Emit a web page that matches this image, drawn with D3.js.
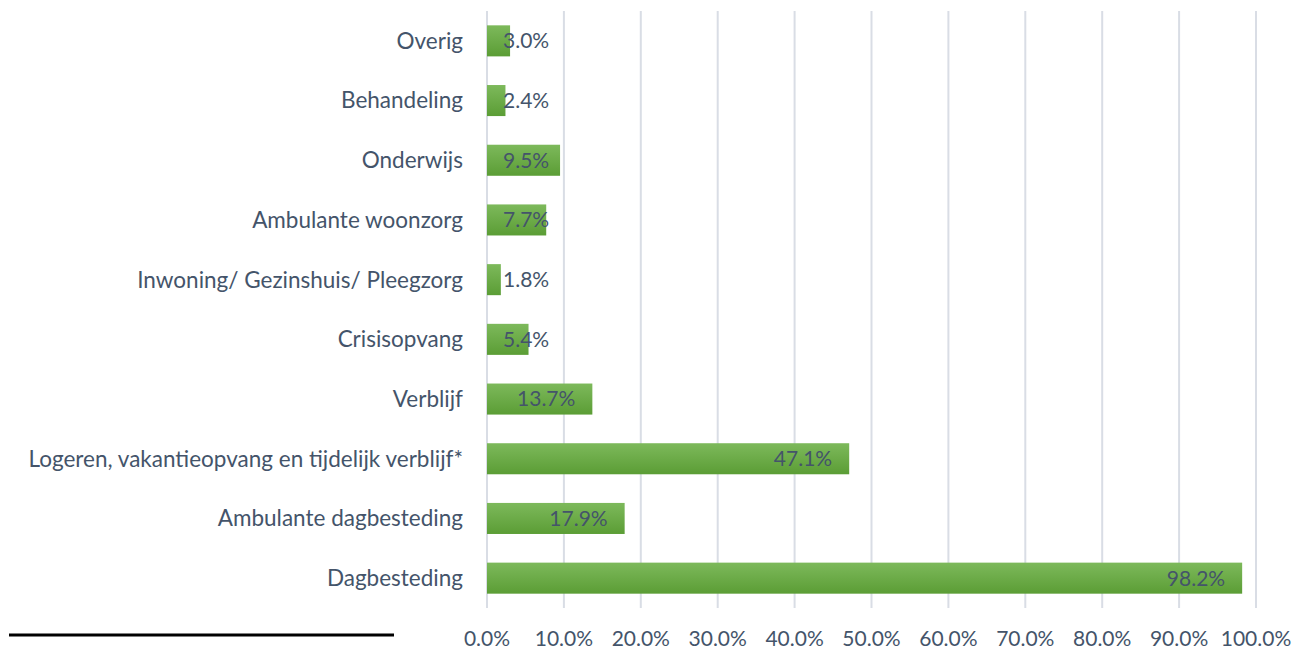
<!DOCTYPE html>
<meta charset="utf-8">
<script src="https://d3js.org/d3.v7.min.js"></script>
<style>
body { margin: 0; background: #fff; }
text { font-family: Lato, "Noto Sans", sans-serif; fill: #44546a; }
</style>
<body>
<script>

// categories top to bottom, as in the picture
var categories = [
  "Overig",
  "Behandeling",
  "Onderwijs",
  "Ambulante woonzorg",
  "Inwoning/ Gezinshuis/ Pleegzorg",
  "Crisisopvang",
  "Verblijf",
  "Logeren, vakantieopvang en tijdelijk verblijf*",
  "Ambulante dagbesteding",
  "Dagbesteding"
];
var values = [3.0, 2.4, 9.5, 7.7, 1.8, 5.4, 13.7, 47.1, 17.9, 98.2];
var ticks = [0, 10, 20, 30, 40, 50, 60, 70, 80, 90, 100];

var width = 1295, height = 649;
var plotLeft = 487, plotRight = 1256, plotTop = 11, plotBottom = 608;

var svg = d3.select("body").append("svg")
  .attr("width", width)
  .attr("height", height);

var grad = svg.append("defs").append("linearGradient")
  .attr("id", "barGrad")
  .attr("x1", 0).attr("y1", 0).attr("x2", 0).attr("y2", 1);
grad.append("stop").attr("offset", "0%").attr("stop-color", "#7db95b");
grad.append("stop").attr("offset", "100%").attr("stop-color", "#5b9d35");

var x = d3.scaleLinear().domain([0, 100]).range([plotLeft, plotRight]);
var y = d3.scaleBand().domain(categories).range([plotTop, plotBottom]).paddingInner(0.48).paddingOuter(0.24);

// gridlines
svg.append("g").selectAll("line")
  .data(ticks).enter().append("line")
  .attr("x1", function(d) { return x(d); })
  .attr("x2", function(d) { return x(d); })
  .attr("y1", plotTop)
  .attr("y2", plotBottom)
  .attr("stroke", "#d9dde5")
  .attr("stroke-width", 2);

// x tick labels
svg.append("g").selectAll("text")
  .data(ticks).enter().append("text")
  .attr("x", function(d) { return x(d); })
  .attr("y", 646)
  .attr("text-anchor", "middle")
  .style("font-size", "21px")
  .text(function(d) { return d.toFixed(1) + "%"; });

// category labels
svg.append("g").selectAll("text")
  .data(categories).enter().append("text")
  .attr("x", 463)
  .attr("y", function(d) { return y(d) + y.bandwidth() / 2; })
  .attr("dy", "0.35em")
  .attr("text-anchor", "end")
  .style("font-size", "22.5px")
  .text(function(d) { return d; });

// bars
var bars = svg.selectAll(".bar")
  .data(categories).enter().append("g")
  .attr("class", "bar");

bars.append("rect")
  .attr("x", x(0))
  .attr("y", function(d) { return y(d); })
  .attr("width", function(d, i) { return x(values[i]) - x(0); })
  .attr("height", y.bandwidth())
  .attr("fill", "url(#barGrad)");

bars.append("text")
  .attr("y", function(d) { return y(d) + y.bandwidth() / 2; })
  .attr("dy", "0.35em")
  .attr("text-anchor", "start")
  .style("font-size", "21px")
  .text(function(d, i) { return values[i].toFixed(1) + "%"; })
  .attr("x", function(d, i) {
    var w = this.getComputedTextLength();
    return Math.max(x(0) + 16, x(values[i]) - 17 - w);
  });

// short black rule at bottom left
svg.append("line")
  .attr("x1", 9).attr("x2", 394)
  .attr("y1", 635).attr("y2", 635)
  .attr("stroke", "#000")
  .attr("stroke-width", 3);

</script>
</body>
